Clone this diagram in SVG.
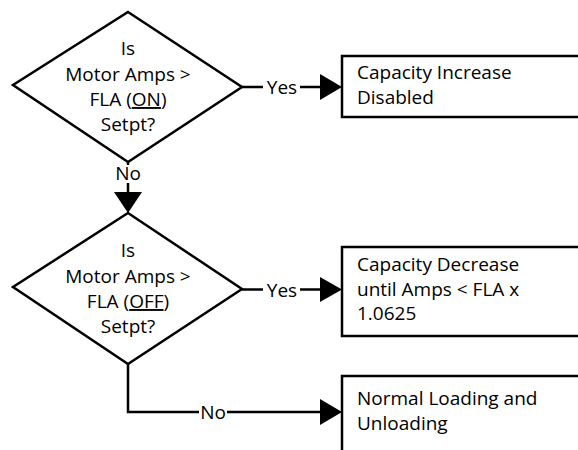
<svg xmlns="http://www.w3.org/2000/svg" width="578" height="450" viewBox="0 0 578 450">
<style>
.shape{fill:#fff;stroke:#000;stroke-width:2.5}
.line{fill:none;stroke:#000;stroke-width:2.5}
.head{fill:#000;stroke:none}
text{font-family:"Open Sans","DejaVu Sans",sans-serif;font-size:19px;fill:#000}
.c{text-anchor:middle}
</style>
<rect width="578" height="450" fill="#fff"/>
<g id="connectors">
<path class="line" d="M242,87 H263 M300,87 H322"/>
<polygon class="head" points="320,74 342,87 320,100"/>
<text class="c" x="282" y="94">Yes</text>
<path class="line" d="M128,162 V165 M128,183 V194"/>
<polygon class="head" points="114,192 142,192 128,213"/>
<text class="c" x="128" y="180">No</text>
<path class="line" d="M242,289.5 H263 M300,289.5 H322"/>
<polygon class="head" points="320,277 342,289.5 320,302"/>
<text class="c" x="282" y="296.5">Yes</text>
<path class="line" d="M128,364 V412 H199 M227,412 H322"/>
<polygon class="head" points="320,399 342,412 320,425"/>
<text class="c" x="213" y="419">No</text>
</g>
<g id="decision1">
<polygon class="shape" points="128,12 242,87 128,162 13,85"/>
<text class="c" x="128" y="55">Is</text>
<text class="c" x="128" y="80.5">Motor Amps &gt;</text>
<text class="c" x="128" y="106">FLA (<tspan text-decoration="underline">ON</tspan>)</text>
<text class="c" x="128" y="131">Setpt?</text>
</g>
<g id="decision2">
<polygon class="shape" points="128,213 242,289 128,364 13,287"/>
<text class="c" x="128" y="257">Is</text>
<text class="c" x="128" y="282.5">Motor Amps &gt;</text>
<text class="c" x="128" y="308">FLA (<tspan text-decoration="underline">OFF</tspan>)</text>
<text class="c" x="128" y="333">Setpt?</text>
</g>
<g id="box1">
<rect class="shape" x="342" y="56" width="260" height="61"/>
<text x="357" y="78.5">Capacity Increase</text>
<text x="357" y="103.5">Disabled</text>
</g>
<g id="box2">
<rect class="shape" x="342" y="247" width="260" height="89"/>
<text x="357" y="271">Capacity Decrease</text>
<text x="357" y="295.5">until Amps &lt; FLA x</text>
<text x="357" y="320">1.0625</text>
</g>
<g id="box3">
<rect class="shape" x="342" y="376" width="260" height="100"/>
<text x="357" y="405">Normal Loading and</text>
<text x="357" y="430">Unloading</text>
</g>
</svg>
